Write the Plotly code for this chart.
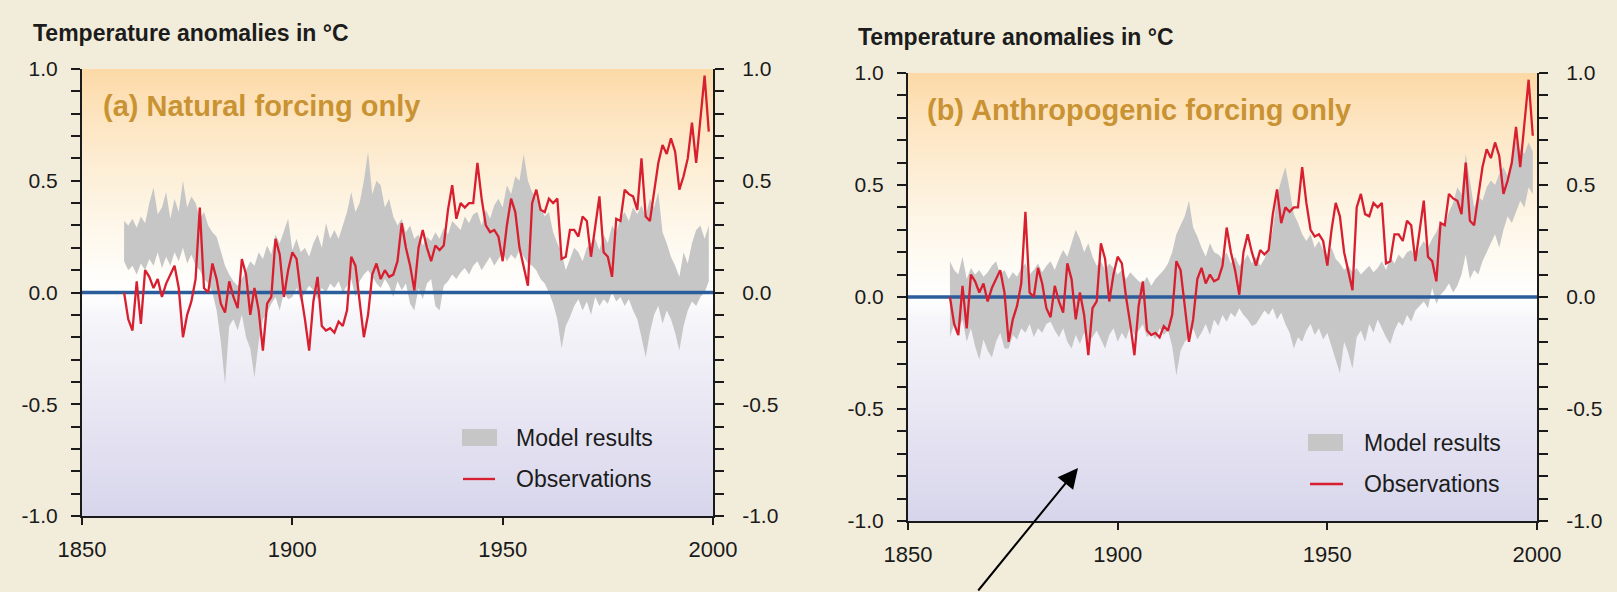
import plotly.graph_objects as go

# Annual global-mean temperature anomalies (deg C), 1860-1999
YEARS = list(range(1860, 2000))

OBSERVED = [
    0.00, -0.12, -0.17, 0.05, -0.14, 0.10, 0.07, 0.02, 0.06, -0.02,
    0.04, 0.08, 0.12, 0.02, -0.20, -0.10, -0.04, 0.06, 0.38, 0.02,
    0.00, 0.13, 0.06, -0.05, -0.09, 0.05, -0.02, -0.07, 0.15, 0.08,
    -0.10, 0.02, -0.08, -0.26, -0.05, -0.02, 0.24, 0.17, -0.02, 0.10,
    0.18, 0.15, 0.00, -0.12, -0.26, -0.04, 0.07, -0.15, -0.17, -0.16,
    -0.18, -0.13, -0.15, -0.08, 0.16, 0.12, -0.04, -0.20, -0.10, 0.08,
    0.13, 0.06, 0.10, 0.07, 0.08, 0.14, 0.31, 0.20, 0.12, 0.01,
    0.20, 0.28, 0.20, 0.14, 0.21, 0.19, 0.21, 0.37, 0.48, 0.33,
    0.40, 0.38, 0.40, 0.40, 0.58, 0.42, 0.30, 0.27, 0.28, 0.25,
    0.14, 0.30, 0.42, 0.36, 0.20, 0.12, 0.03, 0.40, 0.46, 0.37,
    0.36, 0.42, 0.40, 0.42, 0.15, 0.16, 0.28, 0.28, 0.25, 0.34,
    0.32, 0.16, 0.30, 0.43, 0.18, 0.16, 0.07, 0.33, 0.32, 0.46,
    0.44, 0.43, 0.37, 0.60, 0.34, 0.32, 0.45, 0.58, 0.66, 0.62,
    0.69, 0.63, 0.46, 0.52, 0.60, 0.76, 0.58, 0.76, 0.97, 0.72,
]

# Model ensemble range, natural forcing only
NATURAL_LOW = [
    0.14, 0.10, 0.12, 0.08, 0.13, 0.10, 0.15, 0.12, 0.18, 0.11,
    0.16, 0.12, 0.18, 0.14, 0.20, 0.13, 0.17, 0.12, 0.10, 0.06,
    0.04, 0.00, -0.08, -0.22, -0.41, -0.15, -0.12, -0.17, -0.10, -0.20,
    -0.25, -0.38, -0.22, -0.12, -0.09, -0.05, -0.02, -0.08, 0.00, -0.03,
    -0.02, 0.02, -0.04, 0.00, 0.03, 0.01, -0.03, 0.02, 0.00, 0.04,
    0.02, 0.05, 0.00, 0.03, 0.06, -0.02, 0.05, 0.08, 0.10, 0.07,
    0.04, 0.02, 0.06, 0.03, -0.02, 0.05, 0.01, 0.04, -0.05, -0.08,
    0.02, -0.03, 0.04, 0.06, -0.06, -0.08, 0.03, 0.05, 0.08, 0.06,
    0.09, 0.11, 0.08, 0.12, 0.14, 0.10, 0.13, 0.16, 0.12, 0.15,
    0.18, 0.14, 0.17, 0.15, 0.19, 0.16, 0.13, 0.12, 0.10, 0.06,
    0.04, 0.00, -0.05, -0.12, -0.25, -0.15, -0.11, -0.06, -0.03, -0.08,
    -0.04, -0.10, -0.02, -0.06, -0.03, -0.05, 0.00, -0.04, -0.02, -0.06,
    -0.03, -0.08, -0.12, -0.20, -0.29, -0.18, -0.10, -0.06, -0.14, -0.08,
    -0.12, -0.18, -0.26, -0.15, -0.08, -0.04, -0.06, -0.02, 0.00, 0.05,
]
NATURAL_HIGH = [
    0.32, 0.30, 0.33, 0.29, 0.34, 0.31, 0.40, 0.47, 0.35, 0.38,
    0.45, 0.33, 0.42, 0.36, 0.50, 0.38, 0.43, 0.40, 0.33, 0.36,
    0.30, 0.27, 0.25, 0.18, 0.12, 0.08, 0.05, 0.03, 0.06, 0.10,
    0.14, 0.12, 0.18, 0.15, 0.21, 0.17, 0.26, 0.22, 0.28, 0.33,
    0.19, 0.24, 0.18, 0.20, 0.16, 0.22, 0.26, 0.20, 0.31, 0.24,
    0.28, 0.24, 0.30, 0.36, 0.45, 0.36, 0.40, 0.50, 0.63, 0.44,
    0.50, 0.48, 0.38, 0.42, 0.34, 0.30, 0.33, 0.27, 0.30, 0.24,
    0.26, 0.21, 0.25, 0.23, 0.27, 0.24, 0.29, 0.26, 0.32, 0.30,
    0.28, 0.34, 0.31, 0.35, 0.36, 0.30, 0.37, 0.33, 0.39, 0.42,
    0.38, 0.48, 0.44, 0.52, 0.50, 0.62, 0.50, 0.45, 0.42, 0.39,
    0.34, 0.36, 0.27, 0.22, 0.18, 0.10, 0.15, 0.20, 0.18, 0.14,
    0.20, 0.22, 0.24, 0.19, 0.26, 0.22, 0.30, 0.27, 0.33, 0.36,
    0.32, 0.38, 0.35, 0.39, 0.34, 0.42, 0.38, 0.45, 0.27, 0.22,
    0.16, 0.12, 0.07, 0.18, 0.13, 0.22, 0.28, 0.30, 0.24, 0.30,
]

# Model ensemble range, anthropogenic forcing only
ANTHRO_LOW = [
    -0.18, -0.12, -0.15, -0.10, -0.20, -0.14, -0.22, -0.28, -0.19, -0.24,
    -0.27, -0.20, -0.16, -0.23, -0.23, -0.17, -0.19, -0.14, -0.16, -0.12,
    -0.18, -0.14, -0.16, -0.12, -0.11, -0.15, -0.18, -0.14, -0.20, -0.23,
    -0.17, -0.21, -0.16, -0.20, -0.18, -0.15, -0.19, -0.23, -0.17, -0.14,
    -0.20, -0.16, -0.19, -0.13, -0.17, -0.15, -0.12, -0.18, -0.16, -0.19,
    -0.14, -0.17, -0.15, -0.22, -0.35, -0.24, -0.20, -0.18, -0.14, -0.19,
    -0.16, -0.12, -0.17, -0.10, -0.13, -0.08, -0.11, -0.07, -0.09, -0.05,
    -0.08, -0.10, -0.13, -0.12, -0.09, -0.06, -0.08, -0.05, -0.10, -0.07,
    -0.12, -0.16, -0.23, -0.18, -0.20, -0.15, -0.12, -0.17, -0.14, -0.19,
    -0.16, -0.22, -0.28, -0.34, -0.20, -0.25, -0.32, -0.18, -0.15, -0.20,
    -0.12, -0.16, -0.10, -0.14, -0.18, -0.21, -0.15, -0.11, -0.13, -0.08,
    -0.11, -0.06, -0.04, -0.02, -0.05, 0.04, -0.03, 0.01, 0.03, 0.06,
    0.02, 0.05, 0.10, 0.19, 0.08, 0.12, 0.10, 0.16, 0.20, 0.24,
    0.28, 0.22, 0.30, 0.36, 0.33, 0.38, 0.43, 0.40, 0.49, 0.46,
]
ANTHRO_HIGH = [
    0.16, 0.12, 0.10, 0.18, 0.08, 0.13, 0.10, 0.12, 0.09, 0.11,
    0.14, 0.16, 0.10, 0.12, 0.08, 0.11, 0.09, 0.13, 0.15, 0.10,
    0.12, 0.15, 0.11, 0.14, 0.16, 0.12, 0.17, 0.21, 0.18, 0.24,
    0.30, 0.26, 0.20, 0.24, 0.18, 0.14, 0.16, 0.12, 0.15, 0.13,
    0.10, 0.12, 0.08, 0.11, 0.09, 0.07, 0.06, 0.09, 0.05, 0.08,
    0.10, 0.12, 0.15, 0.20, 0.28, 0.32, 0.36, 0.43, 0.31, 0.27,
    0.22, 0.18, 0.24, 0.20, 0.19, 0.17, 0.20, 0.15, 0.18, 0.14,
    0.16, 0.19, 0.15, 0.18, 0.14, 0.17, 0.22, 0.30, 0.45, 0.52,
    0.58, 0.48, 0.37, 0.33, 0.28, 0.25, 0.28, 0.22, 0.25, 0.21,
    0.19, 0.22, 0.17, 0.15, 0.12, 0.14, 0.11, 0.13, 0.10, 0.12,
    0.14, 0.11, 0.13, 0.16, 0.12, 0.18, 0.15, 0.19, 0.17, 0.20,
    0.21, 0.18, 0.22, 0.25, 0.22, 0.26, 0.29, 0.34, 0.32, 0.38,
    0.42, 0.49, 0.46, 0.64, 0.52, 0.40, 0.45, 0.43, 0.49, 0.52,
    0.50, 0.55, 0.58, 0.54, 0.62, 0.70, 0.66, 0.64, 0.69, 0.65,
]

X_TICKS = [1850, 1900, 1950, 2000]
Y_TICKS = [-1.0, -0.9, -0.8, -0.7, -0.6, -0.5, -0.4, -0.3, -0.2, -0.1, 0.0,
           0.1, 0.2, 0.3, 0.4, 0.5, 0.6, 0.7, 0.8, 0.9, 1.0]
Y_LABELS = ["-1.0", "", "", "", "", "-0.5", "", "", "", "", "0.0",
            "", "", "", "", "0.5", "", "", "", "", "1.0"]

Y_TITLE = "Temperature anomalies in °C"
LEGEND_MODEL = "Model results"
LEGEND_OBS = "Observations"

# ---------------------------------------------------------------- styling
W, H = 1617, 592
FONT = "Liberation Sans, Arial, Helvetica, sans-serif"
PAPER_BG = "#f2edda"
BAND_GREY = "rgb(198,198,198)"
OBS_RED = "#d81f2f"
ZERO_BLUE = "#2b5c9c"
AXIS_INK = "#1a1a1a"
LABEL_GOLD = "#c99333"

# vertical background wash: peach at the top, white at zero, lavender below
WASH = [
    [0.00, "#d7d5eb"],
    [0.25, "#e9e7f3"],
    [0.45, "#f6f5f9"],
    [0.50, "#ffffff"],
    [0.60, "#fefaf1"],
    [0.75, "#fdf0da"],
    [0.90, "#fde4bf"],
    [1.00, "#fcd9a6"],
]
WASH_LEVELS = [round(-1.05 + 0.05 * i, 2) for i in range(43)]


def fx(px):
    return px / W


def fy(py):
    return 1 - py / H


PANELS = [
    dict(x="x", y="y", yr="y3", box=(82, 713, 69, 516),
         low=NATURAL_LOW, high=NATURAL_HIGH,
         label="(a) Natural forcing only", label_at=(101, 106), title_at=(31, 33),
         legend_box=(462, 497, 429, 446), legend_line=(463, 495, 479), legend_text=514),
    dict(x="x2", y="y2", yr="y4", box=(908, 1537, 73, 521),
         low=ANTHRO_LOW, high=ANTHRO_HIGH,
         label="(b) Anthropogenic forcing only", label_at=(925, 110), title_at=(856, 37),
         legend_box=(1308, 1343, 434, 451), legend_line=(1310, 1343, 484), legend_text=1362),
]

fig = go.Figure()
layout = dict(
    width=W, height=H,
    margin=dict(l=0, r=0, t=0, b=0, pad=0, autoexpand=False),
    paper_bgcolor=PAPER_BG, plot_bgcolor=PAPER_BG,
    showlegend=False, hovermode=False,
    font=dict(family=FONT, color=AXIS_INK),
    annotations=[], shapes=[],
)

for i, p in enumerate(PANELS):
    x0, x1, y0, y1 = p["box"]
    xa, ya, yra = p["x"], p["y"], p["yr"]

    # background wash
    fig.add_trace(go.Heatmap(
        x=[X_TICKS[0] - 5, X_TICKS[-1] + 5], y=WASH_LEVELS,
        z=[[v, v] for v in WASH_LEVELS], zmin=-1, zmax=1,
        colorscale=WASH, showscale=False, zsmooth="best",
        hoverinfo="skip", xaxis=xa, yaxis=ya,
    ))
    # model range band
    fig.add_trace(go.Scatter(
        x=YEARS, y=p["low"], mode="lines", line=dict(width=0, color=BAND_GREY),
        hoverinfo="skip", xaxis=xa, yaxis=ya,
    ))
    fig.add_trace(go.Scatter(
        x=YEARS, y=p["high"], mode="lines", line=dict(width=0, color=BAND_GREY),
        fill="tonexty", fillcolor=BAND_GREY, hoverinfo="skip", xaxis=xa, yaxis=ya,
    ))
    # zero reference line
    fig.add_trace(go.Scatter(
        x=[X_TICKS[0], X_TICKS[-1]], y=[0, 0], mode="lines",
        line=dict(width=3.5, color=ZERO_BLUE), hoverinfo="skip", xaxis=xa, yaxis=ya,
    ))
    # observations
    fig.add_trace(go.Scatter(
        x=YEARS, y=OBSERVED, mode="lines", line=dict(width=2.3, color=OBS_RED),
        hoverinfo="skip", xaxis=xa, yaxis=ya,
    ))
    # carrier for the right-hand axis
    fig.add_trace(go.Scatter(
        x=[X_TICKS[0]], y=[0], mode="markers", marker=dict(opacity=0),
        hoverinfo="skip", xaxis=xa, yaxis=yra,
    ))

    xdom = [fx(x0), fx(x1)]
    ydom = [fy(y1), fy(y0)]
    xkey = "xaxis" if xa == "x" else "xaxis" + xa[1:]
    ykey = "yaxis" if ya == "y" else "yaxis" + ya[1:]
    yrkey = "yaxis" + yra[1:]

    layout[xkey] = dict(
        domain=xdom, anchor=ya, range=[X_TICKS[0], X_TICKS[-1]],
        tickmode="array", tickvals=X_TICKS, ticktext=[str(t) for t in X_TICKS],
        ticks="outside", ticklen=7, tickwidth=2, tickcolor=AXIS_INK,
        showline=True, linecolor=AXIS_INK, linewidth=2, automargin=False,
        showgrid=False, zeroline=False, ticklabelstandoff=6,
        tickfont=dict(size=22, family=FONT, color=AXIS_INK),
    )
    common_y = dict(
        range=[-1, 1], tickmode="array", tickvals=Y_TICKS, ticktext=Y_LABELS,
        ticks="outside", ticklen=9, tickwidth=2, tickcolor=AXIS_INK,
        showline=True, linecolor=AXIS_INK, linewidth=2, automargin=False,
        showgrid=False, zeroline=False,
        tickfont=dict(size=21, family=FONT, color=AXIS_INK),
    )
    layout[ykey] = dict(domain=ydom, anchor=xa, side="left",
                        ticklabelstandoff=9, **common_y)
    layout[yrkey] = dict(overlaying=ya, anchor=xa, side="right",
                         ticklabelstandoff=14, **common_y)

    # axis caption and panel label
    tx, ty = p["title_at"]
    layout["annotations"].append(dict(
        x=fx(tx), y=fy(ty), xref="paper", yref="paper", xanchor="left", yanchor="middle",
        text="<b>" + Y_TITLE + "</b>", showarrow=False,
        font=dict(size=23, family=FONT, color="#1c1c1c"),
    ))
    lx, ly = p["label_at"]
    layout["annotations"].append(dict(
        x=fx(lx), y=fy(ly), xref="paper", yref="paper", xanchor="left", yanchor="middle",
        text="<b>" + p["label"] + "</b>", showarrow=False,
        font=dict(size=29, family=FONT, color=LABEL_GOLD),
    ))

    # legend
    bx0, bx1, by0, by1 = p["legend_box"]
    layout["shapes"].append(dict(
        type="rect", xref="paper", yref="paper",
        x0=fx(bx0), x1=fx(bx1), y0=fy(by1), y1=fy(by0),
        fillcolor=BAND_GREY, line=dict(width=0), layer="above",
    ))
    lx0, lx1, lyy = p["legend_line"]
    layout["shapes"].append(dict(
        type="line", xref="paper", yref="paper",
        x0=fx(lx0), x1=fx(lx1), y0=fy(lyy), y1=fy(lyy),
        line=dict(color=OBS_RED, width=2.3), layer="above",
    ))
    for txt, cy in ((LEGEND_MODEL, (by0 + by1) / 2), (LEGEND_OBS, lyy)):
        layout["annotations"].append(dict(
            x=fx(p["legend_text"]), y=fy(cy), xref="paper", yref="paper",
            xanchor="left", yanchor="middle", text=txt, showarrow=False,
            font=dict(size=23, family=FONT, color="#1c1c1c"),
        ))

# pointer arrow in the lower panel
layout["annotations"].append(dict(
    x=fx(1078), y=fy(468), xref="paper", yref="paper", text="",
    showarrow=True, arrowhead=2, arrowsize=2, arrowwidth=2, arrowcolor="#000000",
    ax=977 - 1078, ay=600 - 468, axref="pixel", ayref="pixel",
))

fig.update_layout(**layout)
fig.write_html("out.html")
